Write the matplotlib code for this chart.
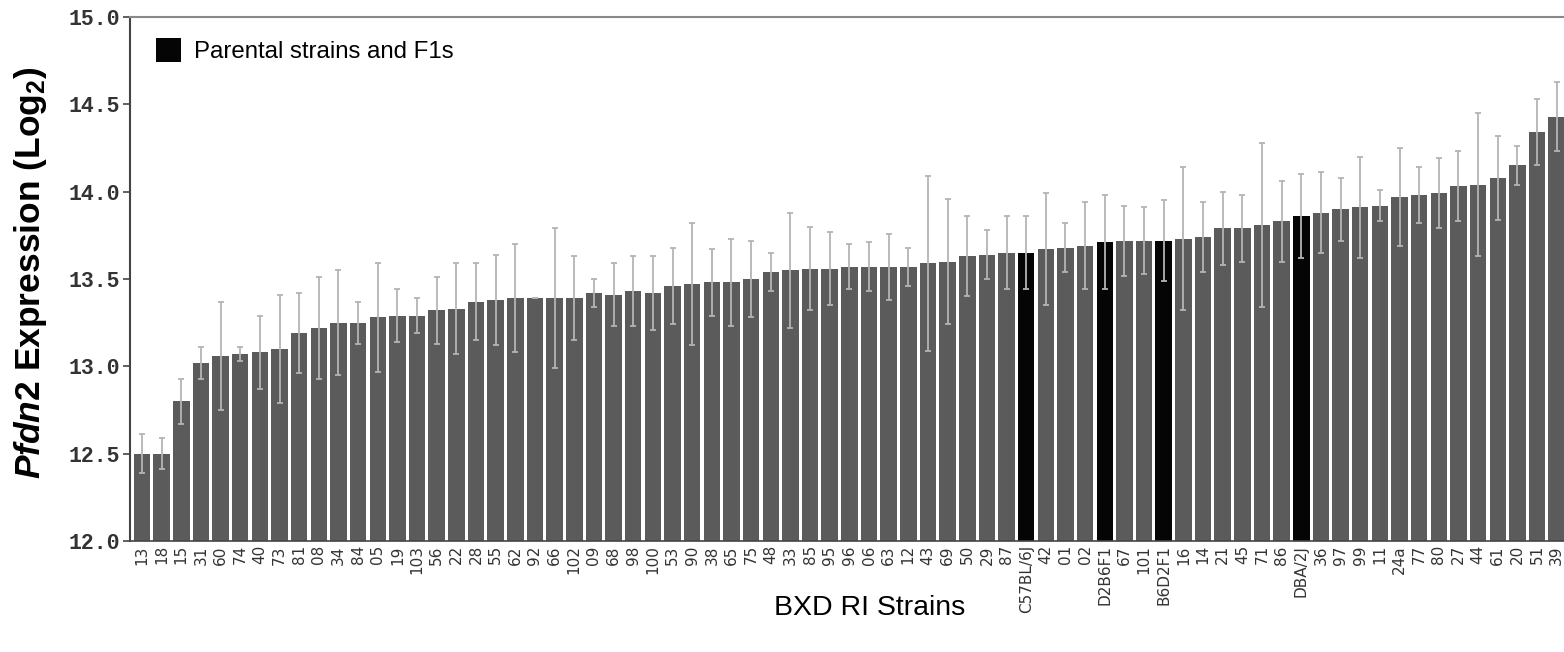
import matplotlib
matplotlib.use("Agg")
import matplotlib.pyplot as plt
from matplotlib.patches import Patch

strains = ["13", "18", "15", "31", "60", "74", "40", "73", "81", "08",
           "34", "84", "05", "19", "103", "56", "22", "28", "55", "62",
           "92", "66", "102", "09", "68", "98", "100", "53", "90", "38",
           "65", "75", "48", "33", "85", "95", "96", "06", "63", "12",
           "43", "69", "50", "29", "87", "C57BL/6J", "42", "01", "02", "D2B6F1",
           "67", "101", "B6D2F1", "16", "14", "21", "45", "71", "86", "DBA/2J",
           "36", "97", "99", "11", "24a", "77", "80", "27", "44", "61",
           "20", "51", "39"]

expression = [12.50, 12.50, 12.80, 13.02, 13.06, 13.07, 13.08, 13.10, 13.19, 13.22,
              13.25, 13.25, 13.28, 13.29, 13.29, 13.32, 13.33, 13.37, 13.38, 13.39,
              13.39, 13.39, 13.39, 13.42, 13.41, 13.43, 13.42, 13.46, 13.47, 13.48,
              13.48, 13.50, 13.54, 13.55, 13.56, 13.56, 13.57, 13.57, 13.57, 13.57,
              13.59, 13.60, 13.63, 13.64, 13.65, 13.65, 13.67, 13.68, 13.69, 13.71,
              13.72, 13.72, 13.72, 13.73, 13.74, 13.79, 13.79, 13.81, 13.83, 13.86,
              13.88, 13.90, 13.91, 13.92, 13.97, 13.98, 13.99, 14.03, 14.04, 14.08,
              14.15, 14.34, 14.43]

sem = [0.11, 0.09, 0.13, 0.09, 0.31, 0.04, 0.21, 0.31, 0.23, 0.29,
       0.30, 0.12, 0.31, 0.15, 0.10, 0.19, 0.26, 0.22, 0.26, 0.31,
       0.00, 0.40, 0.24, 0.08, 0.18, 0.20, 0.21, 0.22, 0.35, 0.19,
       0.25, 0.22, 0.11, 0.33, 0.24, 0.21, 0.13, 0.14, 0.19, 0.11,
       0.50, 0.36, 0.23, 0.14, 0.21, 0.21, 0.32, 0.14, 0.25, 0.27,
       0.20, 0.19, 0.23, 0.41, 0.20, 0.21, 0.19, 0.47, 0.23, 0.24,
       0.23, 0.18, 0.29, 0.09, 0.28, 0.16, 0.20, 0.20, 0.41, 0.24,
       0.11, 0.19, 0.20]

parental = ["C57BL/6J", "D2B6F1", "B6D2F1", "DBA/2J"]
y_ticks = [12.0, 12.5, 13.0, 13.5, 14.0, 14.5, 15.0]

plt.rcParams['mathtext.fontset'] = 'custom'
plt.rcParams['mathtext.it'] = 'Liberation Sans:italic:bold'
plt.rcParams['mathtext.rm'] = 'Liberation Sans:bold'
plt.rcParams['mathtext.bf'] = 'Liberation Sans:bold'

W, H = 1564, 652
fig = plt.figure(figsize=(W / 100, H / 100), dpi=100)
ax = fig.add_axes([130 / W, 1 - 541 / H, 1 - 130 / W, (541 - 17) / H])

x = list(range(len(strains)))
colors = ["#050505" if s in parental else "#5b5b5b" for s in strains]
base = y_ticks[0]
ax.bar(x, [v - base for v in expression], bottom=base, width=0.84,
       color=colors, edgecolor="none", zorder=2)
ax.errorbar(x, expression, yerr=sem, fmt="none", ecolor="#b4b4b4",
            elinewidth=1.3, capsize=2.3, capthick=1.3, zorder=3)

ax.set_ylim(12.0, 15.0)
ax.set_xlim(-0.61, 72.37)
ax.set_yticks(y_ticks)
ax.set_yticklabels([f"{t:.1f}" for t in y_ticks],
                   fontfamily="Liberation Mono", fontweight="bold",
                   fontsize=15.5, color="#333333")
ax.tick_params(axis="y", direction="out", length=5, width=1.2,
               color="#444444", pad=2)
ax.set_xticks(x)
ax.set_xticklabels(strains, rotation=90, fontsize=11, color="#333333",
                   fontfamily="DejaVu Sans")
ax.tick_params(axis="x", length=0, pad=3)

ax.spines["right"].set_visible(False)
ax.spines["left"].set_color("#444444")
ax.spines["left"].set_linewidth(1.5)
ax.spines["top"].set_color("#888888")
ax.spines["top"].set_linewidth(1.5)
ax.spines["bottom"].set_color("#444444")
ax.spines["bottom"].set_linewidth(1.2)

fig.text(31 / W, 1 - 273 / H, r"$\mathit{Pfdn2}$ Expression (Log$_{2}$)",
         rotation=90, ha="center", va="center", fontsize=25.5,
         fontfamily="Liberation Sans", fontweight="bold")
fig.text(870 / W, 1 - 608 / H, "BXD RI Strains", ha="center", va="center",
         fontsize=20.5, fontfamily="Liberation Sans")

handle = Patch(facecolor="#050505", edgecolor="none")
ax.legend([handle], ["Parental strains and F1s"], loc="upper left",
          bbox_to_anchor=(26 / 1434, 1 - 21 / 524), frameon=False,
          borderaxespad=0, borderpad=0, handlelength=1.05, handleheight=1.15,
          handletextpad=0.55, prop={"family": "Liberation Sans", "size": 17.3})

fig.savefig("out.png", dpi=100, facecolor="white")
